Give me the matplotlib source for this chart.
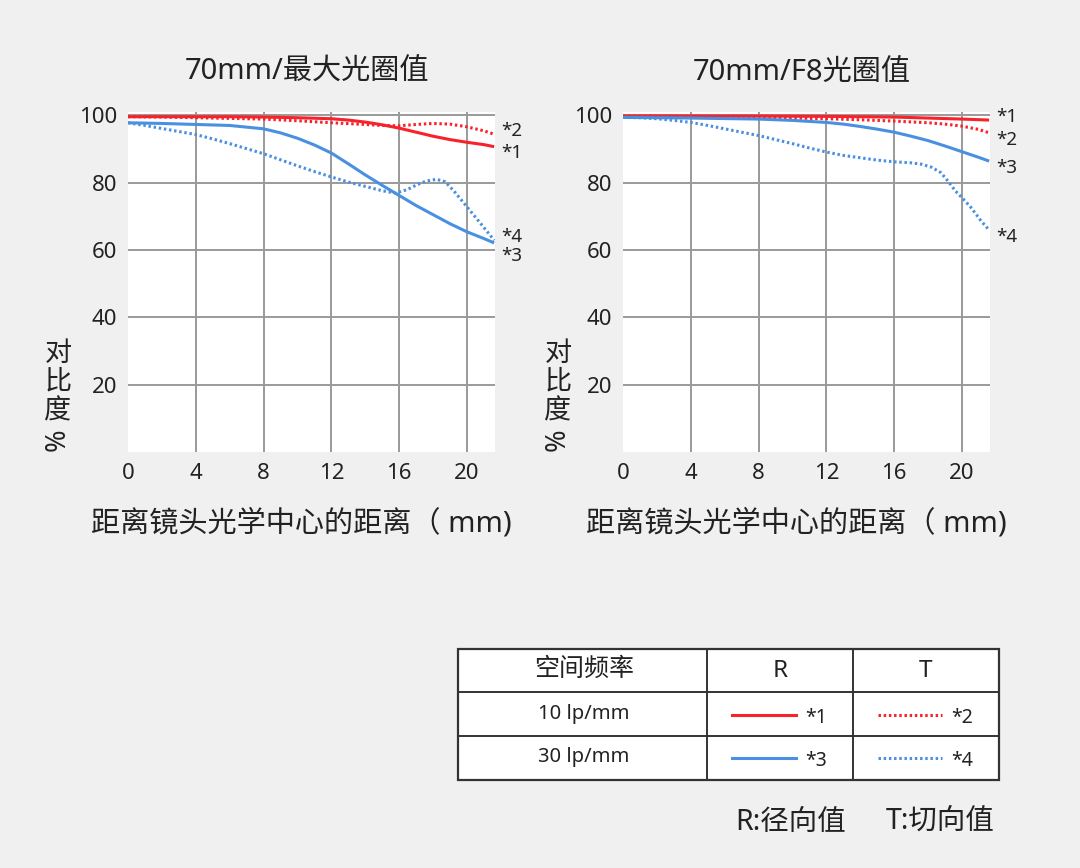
import matplotlib
matplotlib.use("Agg")
import matplotlib.pyplot as plt
from matplotlib.transforms import blended_transform_factory
from matplotlib.patches import Rectangle

plt.rcParams['font.family'] = ['Noto Sans', 'Noto Sans CJK SC', 'DejaVu Sans']

# ---------------- data ----------------
titles = ["70mm/最大光圈值", "70mm/F8光圈值"]
xlabel = "距离镜头光学中心的距离（ mm)"
ylabel_chars = ["对", "比", "度"]
xticks = [0, 4, 8, 12, 16, 20]
yticks = [20, 40, 60, 80, 100]

# left chart (max aperture)
L1_x = [0, 2, 4, 6, 8, 10, 12, 13, 14, 15, 16, 17, 18, 19, 20, 21, 21.6]
L1_y = [99.6, 99.6, 99.6, 99.6, 99.5, 99.3, 99.0, 98.6, 98.0, 97.2, 96.2, 95.0, 93.8, 92.8, 92.0, 91.3, 90.7]
L2_x = [0, 2, 4, 6, 8, 10, 12, 14, 15, 16, 17, 18, 19, 20, 21, 21.6]
L2_y = [99.6, 99.5, 99.3, 99.1, 98.9, 98.4, 97.8, 97.3, 97.0, 96.9, 97.3, 97.6, 97.4, 96.6, 95.4, 94.4]
L3_x = [0, 2, 4, 6, 8, 9, 10, 11, 12, 13, 14, 15, 16, 17, 18, 19, 20, 21, 21.6]
L3_y = [97.8, 97.6, 97.3, 97.0, 96.0, 94.8, 93.2, 91.2, 88.8, 85.6, 82.3, 79.2, 76.2, 73.2, 70.5, 67.8, 65.4, 63.4, 62.1]
L4_x = [0, 1, 2, 3, 4, 5, 6, 7, 8, 9, 10, 11, 12, 13, 14, 15, 15.8, 16.5, 17, 17.6, 18.2, 18.7, 19.2, 20, 20.8, 21.6]
L4_y = [97.8, 97.0, 96.1, 95.2, 94.3, 93.0, 91.6, 90.1, 88.6, 86.8, 85.0, 83.3, 81.7, 80.2, 78.9, 77.6, 76.9, 78.0, 79.3, 80.5, 81.0, 80.3, 77.7, 72.8, 67.9, 62.9]

# right chart (F8)
R1_x = [0, 4, 8, 12, 14, 16, 18, 20, 21.6]
R1_y = [99.8, 99.8, 99.8, 99.7, 99.6, 99.5, 99.2, 98.9, 98.6]
R2_x = [0, 4, 8, 10, 12, 14, 16, 18, 19, 20, 21, 21.6]
R2_y = [99.8, 99.7, 99.5, 99.2, 99.0, 98.7, 98.3, 97.8, 97.4, 96.8, 95.8, 94.8]
R3_x = [0, 4, 8, 10, 12, 13, 14, 15, 16, 17, 18, 19, 20, 21, 21.6]
R3_y = [99.4, 99.2, 98.9, 98.5, 97.9, 97.4, 96.7, 95.9, 95.0, 93.8, 92.5, 90.9, 89.2, 87.5, 86.4]
R4_x = [0, 1, 2, 3, 4, 5, 6, 7, 8, 9, 10, 11, 12, 13, 14, 15, 16, 17, 17.6, 18.2, 18.75, 19.2, 19.6, 20.1, 20.5, 21.1, 21.6]
R4_y = [99.4, 99.3, 99.0, 98.5, 97.9, 97.0, 96.0, 95.0, 94.0, 92.8, 91.6, 90.3, 89.1, 88.1, 87.4, 86.7, 86.2, 85.9, 85.5, 84.6, 83.0, 80.3, 77.6, 75.0, 72.8, 68.8, 65.9]

series_names = ["*1", "*2", "*3", "*4"]
label_y_left = [88.7, 95.3, 58.2, 63.8]    # label placement (data units)
label_y_right = [99.4, 92.6, 84.3, 63.8]

freq_labels = ["10 lp/mm", "30 lp/mm"]
table_header = ["空间频率", "R", "T"]
footnotes = ["R:径向值", "T:切向值"]

# ---------------- style ----------------
RED = "#f8222a"
BLUE = "#4a90e2"
TXT = "#222222"
BG = "#f0f0f0"
GRID = "#9a9a9a"
styles = [
    dict(color=RED, lw=2.2, ls="-"),
    dict(color=RED, lw=2.2, ls=(0, (0.8, 0.9))),
    dict(color=BLUE, lw=2.2, ls="-"),
    dict(color=BLUE, lw=2.2, ls=(0, (0.8, 0.9))),
]

W, H = 1080, 868
fig = plt.figure(figsize=(W / 100, H / 100), dpi=100, facecolor=BG)


def px_rect(x0, y0, x1, y1):
    return [x0 / W, 1 - y1 / H, (x1 - x0) / W, (y1 - y0) / H]


def make_chart(rect, data, label_ys, title, cx, ylab_x):
    ax = fig.add_axes(rect)
    ax.set_facecolor("white")
    for s in ax.spines.values():
        s.set_visible(False)
    ax.set_xlim(0, 21.65)
    ax.set_ylim(0, 101)
    ax.set_xticks(xticks)
    ax.set_yticks(yticks)
    ax.tick_params(length=0, labelsize=16, colors=TXT)
    ax.tick_params(axis="x", pad=8)
    ax.tick_params(axis="y", pad=8)
    ax.grid(True, color=GRID, lw=1.4)
    ax.xaxis.get_gridlines()[0].set_visible(False)
    ax.set_axisbelow(True)
    for (xs, ys), st in zip(data, styles):
        ax.plot(xs, ys, solid_capstyle="butt", **st)
    tr = blended_transform_factory(ax.transAxes, ax.transData)
    for name, yv in zip(series_names, label_ys):
        ax.text(1.018, yv, name, transform=tr, fontsize=13.5, color=TXT,
                ha="left", va="center")
    fig.text(cx / W, 1 - 72 / H, title, fontsize=21, color=TXT,
             ha="center", va="center")
    fig.text((cx - 6) / W, 1 - 524 / H, xlabel, fontsize=21, color=TXT,
             ha="center", va="center")
    for i, ch in enumerate(ylabel_chars):
        fig.text(ylab_x / W, 1 - (354 + 28.5 * i) / H, ch, fontsize=19.5,
                 color=TXT, ha="center", va="center")
    fig.text(ylab_x / W, 1 - (354 + 28.5 * 3) / H, "%", fontsize=19.5,
             color=TXT, ha="center", va="center", rotation=90)
    return ax


make_chart(px_rect(128, 112, 495, 452),
           [(L1_x, L1_y), (L2_x, L2_y), (L3_x, L3_y), (L4_x, L4_y)],
           label_y_left, titles[0], 307, 58)
make_chart(px_rect(623, 112, 990, 452),
           [(R1_x, R1_y), (R2_x, R2_y), (R3_x, R3_y), (R4_x, R4_y)],
           label_y_right, titles[1], 802, 558)

# ---------------- legend table ----------------
tx0, ty0, tx1, ty1 = 458, 649, 999, 780
tax = fig.add_axes(px_rect(tx0, ty0, tx1, ty1))
tw, th = tx1 - tx0, ty1 - ty0
tax.set_xlim(0, tw)
tax.set_ylim(th, 0)
tax.axis("off")
BORDER = "#333333"
tax.add_patch(Rectangle((0, 0), tw, th, facecolor="white", edgecolor=BORDER,
                        lw=1.6, clip_on=False))
for xv in (249, 395):
    tax.plot([xv, xv], [0, th], color=BORDER, lw=1.4)
for yv in (43, 87):
    tax.plot([0, tw], [yv, yv], color=BORDER, lw=1.4)
col_c = [126, 322, 468]
tax.text(col_c[0], 20, table_header[0], fontsize=18, color=TXT, ha="center", va="center")
tax.text(col_c[1], 22, table_header[1], fontsize=17.5, color=TXT, ha="center", va="center")
tax.text(col_c[2], 22, table_header[2], fontsize=17.5, color=TXT, ha="center", va="center")
row_y = [66, 109]
for r, lab in enumerate(freq_labels):
    tax.text(col_c[0], row_y[r] - 1, lab, fontsize=14.5, color=TXT, ha="center", va="center")
    for c in range(2):
        st = styles[2 * r + c]
        x0 = 274 if c == 0 else 420
        tax.plot([x0, x0 + 64], [row_y[r], row_y[r]], **st)
        tax.text(x0 + 73, row_y[r] + 3, series_names[2 * r + c], fontsize=14,
                 color=TXT, ha="left", va="center")

fig.text(735 / W, 1 - 822 / H, footnotes[0], fontsize=20.5, color=TXT, ha="left", va="center")
fig.text(886 / W, 1 - 822 / H, footnotes[1], fontsize=20.5, color=TXT, ha="left", va="center")

fig.savefig("out.png", dpi=100, facecolor=BG)
